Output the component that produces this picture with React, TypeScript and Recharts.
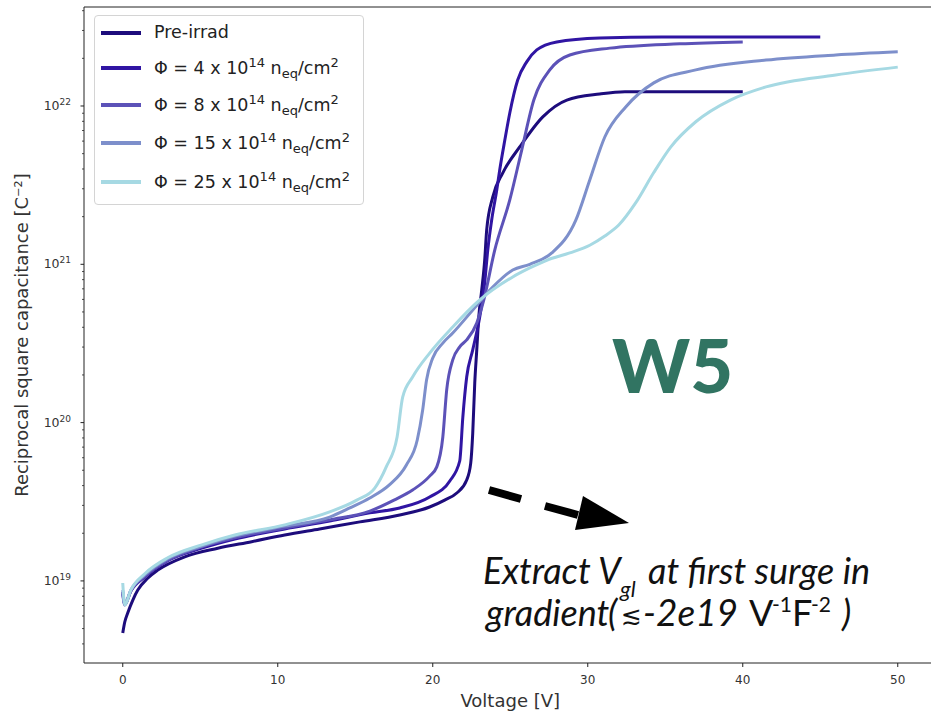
import { LineChart, Line, XAxis, YAxis, Legend, ReferenceLine } from 'recharts';

// fluence labels and colours
const seriesNames = ['Pre-irrad', '4', '8', '15', '25'];
const seriesColors = ['#1d0c7c', '#3015a3', '#5c52b8', '#7d8fcb', '#a6d9e3'];

// Pre-irrad
const preV = [0, 0.13, 0.32, 0.65, 0.97, 1.61, 2.26, 4.0, 6.13, 8.32, 10.45, 12.7, 15.3, 17.87, 19.8, 20.77, 21.55, 22.19, 22.45, 22.58, 22.71, 22.84, 22.97, 23.16, 23.35, 23.48, 23.87, 24.52, 25.61, 27.1, 28.65, 30.77, 32.4, 35.94, 40];
const preC = [4.69e18, 5.5e18, 6.27e18, 7.57e18, 8.75e18, 1.04e19, 1.17e19, 1.42e19, 1.61e19, 1.77e19, 1.95e19, 2.13e19, 2.36e19, 2.61e19, 2.93e19, 3.24e19, 3.59e19, 4.34e19, 5.55e19, 8.59e19, 1.78e20, 2.88e20, 4.65e20, 6.88e20, 1.06e21, 1.65e21, 2.66e21, 3.78e21, 5.51e21, 8.53e21, 1.09e22, 1.19e22, 1.23e22, 1.23e22, 1.23e22];

// 4e14
const phi4V = [0, 0.13, 0.52, 1.42, 2.9, 5.1, 7.23, 10.45, 13.35, 15.94, 17.87, 19.8, 21.1, 21.74, 21.94, 22.19, 22.58, 23.03, 23.35, 23.55, 23.8, 24.13, 24.32, 24.65, 24.97, 25.48, 26.06, 26.71, 28.0, 30.77, 34.77, 40, 45];
const phi4C = [8.51e18, 7.15e18, 8.63e18, 1.06e19, 1.34e19, 1.61e19, 1.84e19, 2.13e19, 2.39e19, 2.69e19, 2.89e19, 3.39e19, 4.28e19, 5.72e19, 1.08e20, 1.94e20, 2.88e20, 4.65e20, 7.62e20, 1.23e21, 1.9e21, 2.95e21, 3.94e21, 6.09e21, 9.04e21, 1.46e22, 1.9e22, 2.26e22, 2.54e22, 2.69e22, 2.73e22, 2.73e22, 2.73e22];

// 8e14
const phi8V = [0, 0.13, 0.52, 1.42, 2.9, 5.1, 7.23, 10.45, 13.35, 15.94, 17.5, 18.7, 19.8, 20.26, 20.65, 20.9, 21.29, 21.74, 22.19, 22.84, 23.29, 24.0, 24.97, 25.74, 26.52, 27.55, 28.84, 31.42, 35.94, 40];
const phi8C = [8.27e18, 7.05e18, 8.63e18, 1.07e19, 1.35e19, 1.64e19, 1.87e19, 2.16e19, 2.43e19, 2.76e19, 3.24e19, 3.75e19, 4.59e19, 5.25e19, 8.11e19, 1.61e20, 2.49e20, 3.01e20, 3.33e20, 4.26e20, 5.95e20, 1.23e21, 2.55e21, 5.27e21, 1.09e22, 1.69e22, 2.1e22, 2.32e22, 2.47e22, 2.54e22];

// 15e14
const phi15V = [0, 0.13, 0.52, 1.42, 2.9, 5.1, 7.23, 10.45, 13.35, 14.65, 15.94, 17.2, 18.3, 19.0, 19.35, 19.6, 20.0, 20.65, 21.29, 22.58, 23.87, 25.16, 26.26, 27.68, 29.23, 30.13, 31.1, 32.45, 34.26, 36.97, 41.5, 46, 50];
const phi15C = [8.75e18, 7.15e18, 8.75e18, 1.09e19, 1.38e19, 1.66e19, 1.92e19, 2.22e19, 2.53e19, 2.89e19, 3.34e19, 4.04e19, 5.4e19, 7.76e19, 1.2e20, 1.86e20, 2.56e20, 3.18e20, 3.68e20, 5.14e20, 7.19e20, 9.21e20, 1.0e21, 1.18e21, 1.9e21, 3.41e21, 6.37e21, 9.86e21, 1.4e22, 1.69e22, 1.95e22, 2.1e22, 2.2e22];

// 25e14
const phi25V = [0, 0.13, 0.52, 1.42, 2.9, 5.1, 7.23, 10.45, 13.35, 15.1, 16.26, 17.0, 17.7, 18.06, 18.7, 19.8, 21.29, 23.03, 25.16, 26.26, 27.35, 28.84, 30.13, 31.1, 32.0, 33.1, 34.26, 35.35, 36.97, 39.2, 41.5, 46, 50];
const phi25C = [9.7e18, 7.05e18, 8.75e18, 1.11e19, 1.4e19, 1.69e19, 1.95e19, 2.26e19, 2.73e19, 3.24e19, 3.86e19, 5.25e19, 8.11e19, 1.45e20, 1.94e20, 2.75e20, 4.02e20, 5.95e20, 8.32e20, 9.48e20, 1.06e21, 1.18e21, 1.32e21, 1.51e21, 1.77e21, 2.45e21, 3.8e21, 5.5e21, 7.95e21, 1.09e22, 1.32e22, 1.57e22, 1.76e22];

const xTicks = [0, 10, 20, 30, 40, 50];
const yMajorExps = [19, 20, 21, 22];
const xDomain = [-2.5, 52.5];
const yDomain = [3.03e18, 4.22e22];

const toPoints = (v: number[], c: number[]) => v.map((x, i) => ({ v: x, c: c[i] }));
const seriesData = [
  toPoints(preV, preC),
  toPoints(phi4V, phi4C),
  toPoints(phi8V, phi8C),
  toPoints(phi15V, phi15C),
  toPoints(phi25V, phi25C),
];

// log ticks: majors plus 2..9 minors
const yTicks: number[] = [];
for (let n = 18; n <= 22; n++) {
  for (let k = 1; k <= 9; k++) {
    const val = k * Math.pow(10, n);
    if (val >= yDomain[0] && val <= yDomain[1]) yTicks.push(val);
  }
}

const renderYTick = (props: any) => {
  const { x, y, payload } = props;
  const exp = Math.log10(payload.value);
  const e = Math.round(exp);
  const major = Math.abs(exp - e) < 1e-6 && yMajorExps.includes(e);
  if (!major) {
    return <line x1={x - 2} x2={x} y1={y} y2={y} stroke="#222" strokeWidth={0.8} />;
  }
  return (
    <g>
      <line x1={x - 3.5} x2={x} y1={y} y2={y} stroke="#222" strokeWidth={1} />
      <text x={x - 13} y={y + 4} textAnchor="end" fontSize={12.5} fill="#333">
        10<tspan dy={-5} fontSize={9}>{e}</tspan>
      </text>
    </g>
  );
};

const legendRows = [32, 67, 104, 142, 181];

const LegendBox = () => (
  <div
    style={{
      position: 'relative',
      width: 270,
      height: 190,
      boxSizing: 'border-box',
      border: '1px solid #d4d4d4',
      borderRadius: 4,
      background: 'rgba(255,255,255,0.85)',
      fontFamily: 'DejaVu Sans',
      fontSize: 17.5,
      color: '#222',
    }}
  >
    {seriesNames.map((name, i) => (
      <div
        key={name}
        style={{
          position: 'absolute',
          left: 0,
          top: legendRows[i] - 15 - 14,
          height: 28,
          display: 'flex',
          alignItems: 'center',
          whiteSpace: 'nowrap',
        }}
      >
        <div style={{ marginLeft: 6, width: 40, height: 3.5, background: seriesColors[i] }} />
        <span style={{ marginLeft: 13, lineHeight: 1 }}>
          {i === 0 ? (
            name
          ) : (
            <>
              Φ = {name} x 10<sup style={{ fontSize: 13 }}>14</sup> n<sub style={{ fontSize: 13 }}>eq</sub>/cm
              <sup style={{ fontSize: 13 }}>2</sup>
            </>
          )}
        </span>
      </div>
    ))}
  </div>
);

export default function App() {
  return (
    <div
      style={{
        position: 'absolute',
        left: 0,
        top: 0,
        width: 931,
        height: 711,
        overflow: 'hidden',
        background: '#fff',
        fontFamily: 'DejaVu Sans',
      }}
    >
      <LineChart width={940} height={711} margin={{ top: 7, right: 3.5, bottom: 0, left: 0 }}>
        <XAxis
          dataKey="v"
          type="number"
          domain={xDomain}
          ticks={xTicks}
          interval={0}
          allowDataOverflow
          stroke="#222"
          tickSize={4}
          tickMargin={8}
          height={48}
          tick={{ fontSize: 12, fill: '#333' }}
          label={{ value: 'Voltage [V]', position: 'insideBottom', offset: 4, style: { fontSize: 18, fill: '#333' } }}
        />
        <YAxis
          type="number"
          scale="log"
          domain={yDomain}
          allowDataOverflow
          ticks={yTicks}
          interval={0}
          tick={renderYTick}
          tickSize={0}
          tickMargin={0}
          tickLine={false}
          width={84}
          stroke="#222"
          label={{
            value: 'Reciprocal square capacitance [C⁻²]',
            angle: -90,
            position: 'insideLeft',
            offset: 22,
            style: { textAnchor: 'middle', fontSize: 18, fill: '#333' },
          }}
        />
        <ReferenceLine y={yDomain[1]} stroke="#222" strokeWidth={1} ifOverflow="visible" />
        <Legend
          layout="horizontal"
          verticalAlign="middle"
          align="center"
          wrapperStyle={{ left: 94, top: 15, width: 270, height: 190 }}
          content={() => <LegendBox />}
        />
        {seriesData.map((d, i) => (
          <Line
            key={seriesNames[i]}
            data={d}
            dataKey="c"
            name={seriesNames[i]}
            type="monotone"
            stroke={seriesColors[i]}
            strokeWidth={3}
            dot={false}
            isAnimationActive={false}
          />
        ))}
      </LineChart>

      <svg width={931} height={711} style={{ position: 'absolute', left: 0, top: 0, pointerEvents: 'none' }}>
        <text x={612} y={393} fontFamily="Lato" fontWeight={900} fontSize={74} fill="#317462">
          W5
        </text>
        <line x1={489} y1={490} x2={521} y2={499} stroke="#000" strokeWidth={8} />
        <line x1={545} y1={506} x2={578} y2={515} stroke="#000" strokeWidth={8} />
        <polygon points="583,496 575,530 629,523" fill="#000" />
        <g fontFamily="Lato" fill="#111">
          <text x={483} y={584} fontSize={36} fontStyle="italic">Extract</text>
          <text x={598} y={584} fontSize={36} fontStyle="italic">V</text>
          <text x={620} y={597} fontSize={22} fontStyle="italic">gl</text>
          <text x={648} y={584} fontSize={36} fontStyle="italic">at first surge in</text>
          <text x={486} y={626} fontSize={36} fontStyle="italic">gradient</text>
          <text x={608} y={626} fontSize={36} fontStyle="italic">(</text>
          <text x={621} y={624} fontSize={25} fontFamily="DejaVu Sans">≲</text>
          <text x={643} y={626} fontSize={37} fontStyle="italic">-2e19</text>
          <text x={749} y={626} fontSize={36}>V</text>
          <text x={772} y={612} fontSize={21}>-1</text>
          <text x={792} y={626} fontSize={36}>F</text>
          <text x={811} y={612} fontSize={21}>-2</text>
          <text x={842} y={626} fontSize={36} fontStyle="italic">)</text>
        </g>
      </svg>
    </div>
  );
}
